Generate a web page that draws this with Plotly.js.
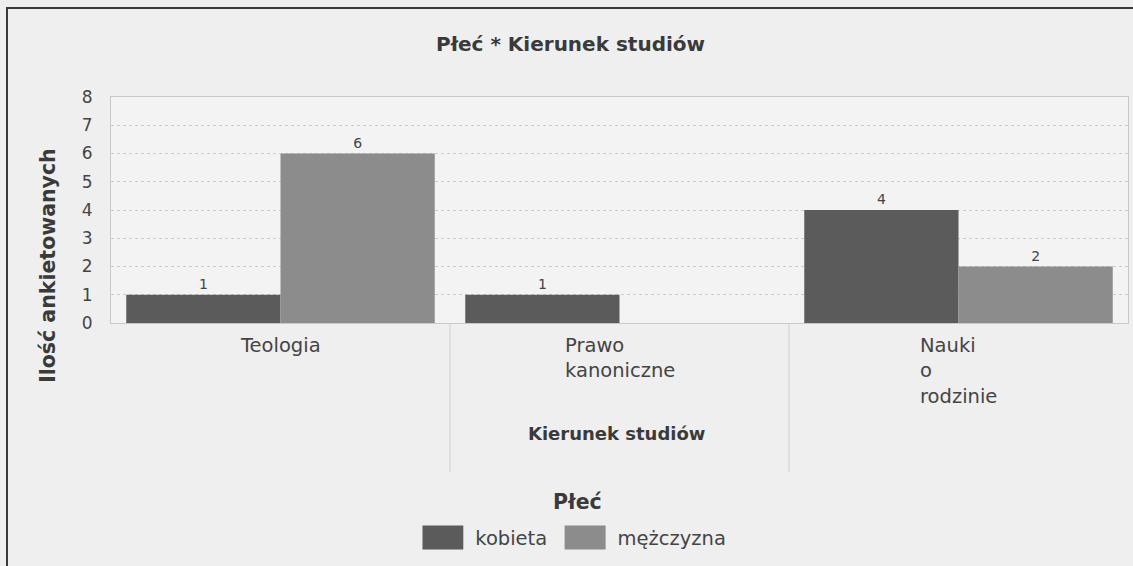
<!DOCTYPE html>
<html>
<head>
<meta charset="utf-8">
<script src="https://cdn.plot.ly/plotly-3.0.1.min.js"></script>
<style>
  body { margin: 0; background: #efefef; }
  #frame { position: absolute; left: 6px; top: 7px; width: 1130px; height: 562px;
           border-left: 2px solid #3a3a3a; border-top: 2px solid #3a3a3a; }
  #myDiv { width: 1125px; height: 557px; }
</style>
</head>
<body>
<div id="frame"><div id="myDiv"></div></div>
<script>
// ---------------- data ----------------
var kierunki = ['Teologia', 'Prawo kanoniczne', 'Nauki o rodzinie'];
var kierunkiLabels = ['Teologia', 'Prawo<br>kanoniczne', 'Nauki<br>o<br>rodzinie'];
var kobieta = [1, 1, 4];
var mezczyzna = [6, 0, 2];
var seriesNames = ['kobieta', 'mężczyzna'];
var colors = ['#5b5b5b', '#8c8c8c'];

var titleFont = 'DejaVu Sans';
var textFont = 'DejaVu Sans';

function labels(vals){
  return vals.map(function(v){ return v > 0 ? String(v) : ''; });
}

var data = [{
    x: kierunki,
    y: kobieta,
    name: seriesNames[0] + '\u00a0\u00a0',   // a bit more room before the next legend item
    type: 'bar',
    text: labels(kobieta),
    textposition: 'outside',
    cliponaxis: false,
    textfont: {family: textFont, size: 14, color: '#444'},
    marker: {color: colors[0]},
    hoverinfo: 'name+y'
  },{
    x: kierunki,
    y: mezczyzna,
    name: seriesNames[1],
    type: 'bar',
    text: labels(mezczyzna),
    textposition: 'outside',
    cliponaxis: false,
    textfont: {family: textFont, size: 14, color: '#444'},
    marker: {color: colors[1]},
    hoverinfo: 'name+y'
}];

// category labels (left aligned lines, like the original)
var annotations = kierunki.map(function(k, i){
  return {
    x: k, xref: 'x',
    y: -0.04, yref: 'paper',
    xanchor: 'center', yanchor: 'top',
    align: 'left',
    showarrow: false,
    text: kierunkiLabels[i],
    font: {family: textFont, size: 19.5, color: '#444'}
  };
});

// axis titles + legend title
annotations.push({
  text: 'Kierunek studiów', showarrow: false,
  xref: 'paper', yref: 'paper', x: 0.4975, y: -0.487,
  xanchor: 'center', yanchor: 'middle',
  font: {family: titleFont, size: 18, color: '#3a3a3a', weight: 'bold'}
});
annotations.push({
  text: 'Ilość ankietowanych', showarrow: false, textangle: -90,
  xref: 'paper', yref: 'paper', x: -0.062, y: 0.257,
  xanchor: 'center', yanchor: 'middle',
  font: {family: titleFont, size: 20.5, color: '#3a3a3a', weight: 'bold'}
});
annotations.push({
  text: 'Płeć', showarrow: false,
  xref: 'paper', yref: 'paper', x: 0.459, y: -0.792,
  xanchor: 'center', yanchor: 'middle',
  font: {family: titleFont, size: 20.5, color: '#3a3a3a', weight: 'bold'}
});

// vertical separators between categories
var shapes = [];
for (var i = 1; i < kierunki.length; i++){
  shapes.push({
    type: 'line', xref: 'x', yref: 'paper',
    x0: i - 0.5, x1: i - 0.5, y0: 0, y1: -0.66,
    line: {color: '#cfcfcf', width: 1}
  });
}

var layout = {
  title: {
    text: 'Płeć * Kierunek studiów',
    font: {family: titleFont, size: 20, color: '#3a3a3a', weight: 'bold'},
    x: 0.5, xanchor: 'center',
    y: 1 - 35/557, yanchor: 'middle'
  },
  xaxis: {
    type: 'category',
    showticklabels: false,
    showgrid: false,
    showline: true,
    linecolor: '#c8c8c8',
    mirror: true,
    ticks: ''
  },
  yaxis: {
    range: [0, 8],
    dtick: 1,
    showgrid: true,
    gridcolor: '#cdcdcd',
    griddash: 'dot',
    showline: true,
    linecolor: '#c8c8c8',
    mirror: true,
    zeroline: false,
    ticks: '',
    ticklabelstandoff: 14,
    tickfont: {family: textFont, size: 17, color: '#444'}
  },
  barmode: 'group',
  bargap: 0.09,
  bargroupgap: 0,
  showlegend: true,
  legend: {
    orientation: 'h',
    x: 0.458, xanchor: 'center',
    y: -0.951, yanchor: 'middle',
    font: {family: textFont, size: 19.5, color: '#444'},
    itemwidth: 43,
    bgcolor: 'rgba(0,0,0,0)'
  },
  annotations: annotations,
  shapes: shapes,
  margin: {l: 103, r: 5, t: 88, b: 243},
  paper_bgcolor: '#efefef',
  plot_bgcolor: '#f3f3f3',
  width: 1125,
  height: 557
};

Plotly.newPlot('myDiv', data, layout, {displayModeBar: false}).then(function(gd){
  // bigger legend swatches, as in the original
  gd.querySelectorAll('.legend .traces').forEach(function(tr){
    var txt = tr.querySelector('.legendtext');
    var path = tr.querySelector('.legendpoints path');
    if (!txt || !path) return;
    var tx = parseFloat(txt.getAttribute('x')) || 40;
    var x1 = tx - 12, x0 = x1 - 41;
    path.setAttribute('transform', '');
    path.setAttribute('d', 'M' + x1 + ',12H' + x0 + 'V-12H' + x1 + 'Z');
  });
});
</script>
</body>
</html>
